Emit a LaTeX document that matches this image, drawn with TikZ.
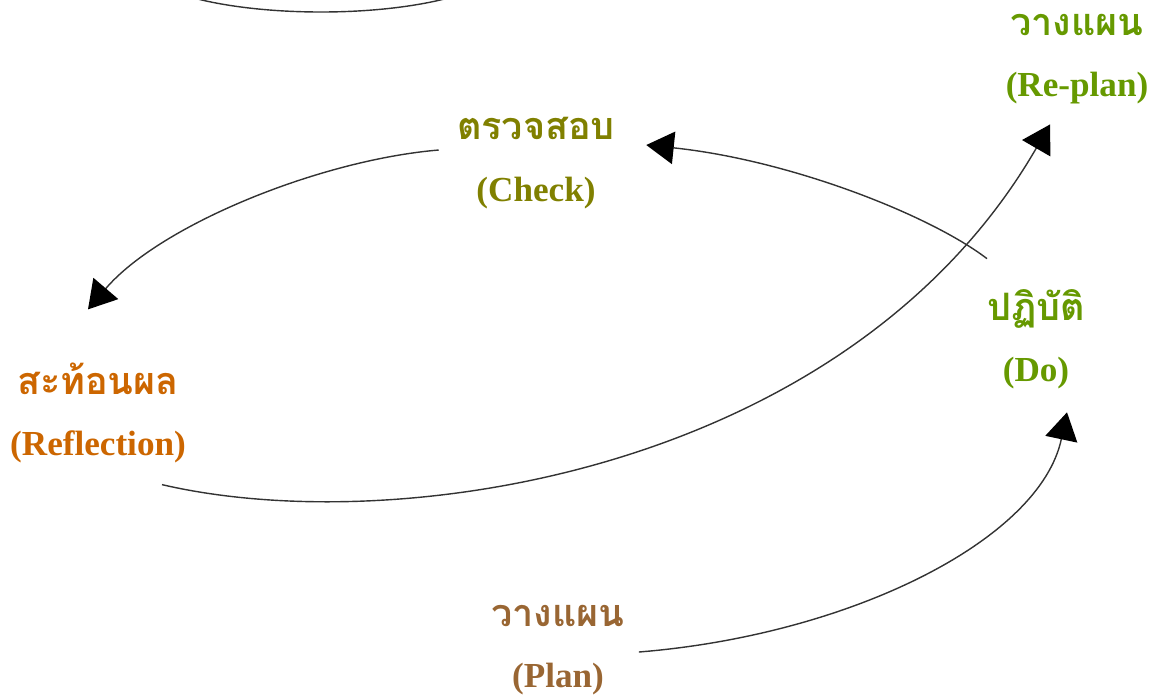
\documentclass[tikz,border=0pt]{standalone}
\usepackage{fontspec}
\setmainfont{Liberation Serif}
\newfontfamily\thaifont[Script=Thai]{Loma}
\usetikzlibrary{calc}
\usetikzlibrary{arrows.meta}
\usepackage{xcolor}
\definecolor{chkcol}{HTML}{808000}
\definecolor{reflcol}{HTML}{CC6600}
\definecolor{docol}{HTML}{669900}
\definecolor{plancol}{HTML}{996633}
\definecolor{linecol}{HTML}{333333}
\tikzset{
 stagelabel/.style={align=center, inner sep=0, font=\bfseries\fontsize{20}{35}\selectfont},
 cycleline/.style={linecol, line width=.8pt, -{Triangle[length=.55cm, width=.65cm, color=black]}}
}
\newcommand{\thword}[1]{{\thaifont\fontsize{21.5}{35}\selectfont #1}}

\begin{document}
\begin{tikzpicture}[x=.02cm, y=-.02cm]
\useasboundingbox (0,0) rectangle (1153,697);
\node[stagelabel, text=chkcol] (chk) at (536,163) {\thword{ตรวจสอบ}\\(Check)};
\node[stagelabel, text=reflcol] (refl) at (98,413) {\thword{สะท้อนผล}\\(Reflection)};
\node[stagelabel, text=docol] (do) at (1036,339) {\thword{ปฏิบัติ}\\(Do)};
\node[stagelabel, text=plancol] (plan) at (558,650) {\thword{วางแผน}\\(Plan)};
\node[stagelabel, text=docol] (replan) at (1077,59) {\thword{วางแผน}\\(Re-plan)};
% arc coming in from above the page
\coordinate (arcin) at (190,-3);
\coordinate (arcout) at (452,-3);
\draw[linecol, line width=.8pt] (arcin) .. controls (262,17) and (380,17) .. (arcout);
% the cycle
\draw[cycleline] ($(chk.west)+(-18,-13)$) .. controls (320,160) and (160,225) .. ($(refl.north)+(-10,-53)$);
\draw[cycleline] ($(refl.south)+(64,21)$) .. controls (400,540) and (850,470) .. ($(replan.south)+(-27,20)$);
\draw[cycleline] ($(plan.east)+(14,2)$) .. controls (850,635) and (1040,540) .. ($(do.south)+(31,23)$);
\draw[cycleline] ($(do.north)+(-49,-30)$) .. controls (930,215) and (790,160) .. ($(chk.east)+(31,-18)$);
\end{tikzpicture}
\end{document}
